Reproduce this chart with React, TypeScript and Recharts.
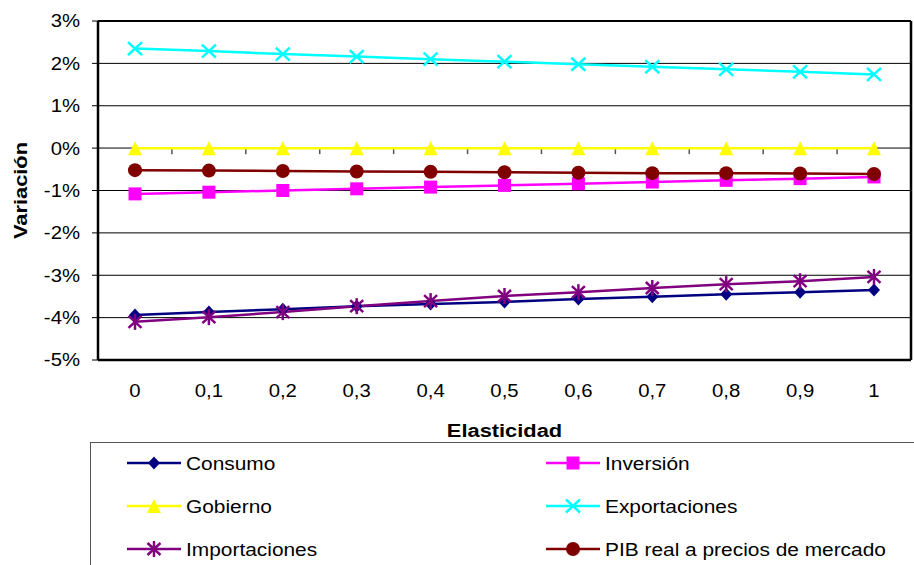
import React from 'react';
import { LineChart, Line, XAxis, YAxis, CartesianGrid, ReferenceLine, Legend, Label } from 'recharts';

const categories = ['0', '0,1', '0,2', '0,3', '0,4', '0,5', '0,6', '0,7', '0,8', '0,9', '1'];
const consumo = [-3.94, -3.87, -3.8, -3.73, -3.68, -3.63, -3.56, -3.51, -3.45, -3.4, -3.35];
const inversion = [-1.08, -1.04, -1.0, -0.96, -0.92, -0.88, -0.84, -0.8, -0.76, -0.72, -0.68];
const gobierno = [0, 0, 0, 0, 0, 0, 0, 0, 0, 0, 0];
const exportaciones = [2.35, 2.29, 2.22, 2.16, 2.1, 2.04, 1.98, 1.92, 1.86, 1.8, 1.74];
const importaciones = [-4.1, -3.99, -3.87, -3.73, -3.61, -3.49, -3.4, -3.3, -3.21, -3.14, -3.04];
const pib = [-0.52, -0.53, -0.54, -0.55, -0.56, -0.57, -0.58, -0.59, -0.59, -0.6, -0.61];
const yTicks = [-5, -4, -3, -2, -1, 0, 1, 2, 3];

const FONT = '"Liberation Sans", Arial, sans-serif';
const SX = 1.13;

type Kind = 'diamond' | 'square' | 'triangle' | 'x' | 'star' | 'circle';

const series: { key: string; name: string; values: number[]; color: string; kind: Kind }[] = [
  { key: 'consumo', name: 'Consumo', values: consumo, color: '#000080', kind: 'diamond' },
  { key: 'inversion', name: 'Inversión', values: inversion, color: '#FF00FF', kind: 'square' },
  { key: 'gobierno', name: 'Gobierno', values: gobierno, color: '#FFFF00', kind: 'triangle' },
  { key: 'exportaciones', name: 'Exportaciones', values: exportaciones, color: '#00FFFF', kind: 'x' },
  { key: 'importaciones', name: 'Importaciones', values: importaciones, color: '#800080', kind: 'star' },
  { key: 'pib', name: 'PIB real a precios de mercado', values: pib, color: '#800000', kind: 'circle' },
];

const data = categories.map((c, i) => {
  const row: Record<string, any> = { cat: c };
  series.forEach((s) => {
    row[s.key] = s.values[i];
  });
  return row;
});

function Marker({ cx, cy, kind, color }: { cx: number; cy: number; kind: Kind; color: string }) {
  switch (kind) {
    case 'diamond':
      return <polygon points={`${cx},${cy - 6.5} ${cx + 6},${cy} ${cx},${cy + 6.5} ${cx - 6},${cy}`} fill={color} />;
    case 'square':
      return <rect x={cx - 6.5} y={cy - 6.5} width={13} height={13} fill={color} />;
    case 'triangle':
      return <polygon points={`${cx},${cy - 7} ${cx + 7},${cy + 7} ${cx - 7},${cy + 7}`} fill={color} />;
    case 'x':
      return (
        <g stroke={color} strokeWidth={2.5}>
          <line x1={cx - 7} y1={cy - 6.5} x2={cx + 7} y2={cy + 6.5} />
          <line x1={cx - 7} y1={cy + 6.5} x2={cx + 7} y2={cy - 6.5} />
        </g>
      );
    case 'star':
      return (
        <g stroke={color} strokeWidth={2.5}>
          <line x1={cx - 6.5} y1={cy - 6} x2={cx + 6.5} y2={cy + 6} />
          <line x1={cx - 6.5} y1={cy + 6} x2={cx + 6.5} y2={cy - 6} />
          <line x1={cx} y1={cy - 8} x2={cx} y2={cy + 8} />
        </g>
      );
    case 'circle':
    default:
      return <circle cx={cx} cy={cy} r={7} fill={color} />;
  }
}

const makeDot = (kind: Kind, color: string) => (p: any) => {
  if (p.cx == null || p.cy == null) return <g key={`e-${p.index}`} />;
  return (
    <g key={`d-${kind}-${p.index}`}>
      <Marker cx={p.cx} cy={p.cy} kind={kind} color={color} />
    </g>
  );
};

const YTick = (p: any) => (
  <text
    transform={`translate(${p.x},${p.y}) scale(${SX},1)`}
    textAnchor="end"
    dy="0.36em"
    fontSize={18}
    fontFamily={FONT}
    fill="#000"
  >
    {`${p.payload.value}%`}
  </text>
);

const XTick = (p: any) => (
  <text
    transform={`translate(${p.x},${p.y}) scale(${SX},1)`}
    textAnchor="middle"
    dy="0.71em"
    fontSize={18}
    fontFamily={FONT}
    fill="#000"
  >
    {p.payload.value}
  </text>
);

const XTitle = (p: any) => {
  const vb = p.viewBox || { x: 98, y: 360, width: 813 };
  return (
    <text
      transform={`translate(${vb.x + vb.width / 2},${vb.y + 77}) scale(1.15,1)`}
      textAnchor="middle"
      fontSize={19}
      fontWeight="bold"
      fontFamily={FONT}
      fill="#000"
    >
      Elasticidad
    </text>
  );
};

const YTitle = (p: any) => {
  const vb = p.viewBox || { x: 0, y: 21, width: 98, height: 339 };
  return (
    <text
      transform={`translate(20,${vb.y + vb.height / 2}) rotate(-90) scale(1.15,1)`}
      textAnchor="middle"
      dy="0.36em"
      fontSize={19}
      fontWeight="bold"
      fontFamily={FONT}
      fill="#000"
    >
      Variación
    </text>
  );
};

const ZeroAxis = (p: any) => {
  const x1 = p.x1 ?? 98;
  const x2 = p.x2 ?? 911;
  const y = p.y1 ?? 148;
  const n = categories.length;
  const step = (x2 - x1) / n;
  const marks = [];
  for (let i = 1; i < n; i++) {
    const x = x1 + step * i;
    marks.push(<line key={i} x1={x} y1={y} x2={x} y2={y + 6} stroke="#555" strokeWidth={1.5} />);
  }
  return (
    <g>
      <line x1={x1} y1={y} x2={x2} y2={y} stroke="#777" strokeWidth={1.5} />
      {marks}
    </g>
  );
};

const renderLegend = () => {
  const rows = [21, 64, 107];
  const cols = [
    { lx1: 37, lx2: 91, tx: 96 },
    { lx1: 456, lx2: 510, tx: 515 },
  ];
  return (
    <svg width={824} height={123} style={{ display: 'block' }}>
      <rect x={0.5} y={0.5} width={840} height={160} fill="#fff" stroke="#555" strokeWidth={1} />
      {series.map((s, i) => {
        const col = cols[i % 2];
        const y = rows[Math.floor(i / 2)];
        const mx = (col.lx1 + col.lx2) / 2;
        return (
          <g key={s.key}>
            <line x1={col.lx1} y1={y} x2={col.lx2} y2={y} stroke={s.color} strokeWidth={2.5} />
            <Marker cx={mx} cy={y} kind={s.kind} color={s.color} />
            <text
              transform={`translate(${col.tx},${y}) scale(${SX},1)`}
              dy="0.36em"
              fontSize={18.5}
              fontFamily={FONT}
              fill="#000"
            >
              {s.name}
            </text>
          </g>
        );
      })}
    </svg>
  );
};

export default function App() {
  return (
    <div
      style={{
        position: 'absolute',
        left: 0,
        top: 0,
        width: 914,
        height: 565,
        overflow: 'hidden',
        background: '#fff',
        fontFamily: FONT,
      }}
    >
      <LineChart width={914} height={565} data={data} margin={{ top: 21, right: 0, bottom: 145, left: 0 }}>
        <CartesianGrid vertical={false} stroke="#000" strokeWidth={1} />
        <XAxis
          dataKey="cat"
          padding={{ left: 37, right: 37 }}
          interval={0}
          tickLine={false}
          tickSize={0}
          tickMargin={24}
          height={60}
          axisLine={{ stroke: '#000', strokeWidth: 2.5 }}
          tick={<XTick />}
        >
          <Label content={XTitle} />
        </XAxis>
        <YAxis
          domain={[-5, 3]}
          ticks={yTicks}
          interval={0}
          width={98}
          tickSize={6}
          tickMargin={12}
          tickLine={{ stroke: '#000' }}
          axisLine={{ stroke: '#000', strokeWidth: 2.5 }}
          tick={<YTick />}
        >
          <Label content={YTitle} />
        </YAxis>
        <YAxis
          yAxisId="r"
          orientation="right"
          domain={[-5, 3]}
          ticks={yTicks}
          width={3}
          tick={false}
          tickLine={false}
          axisLine={{ stroke: '#000', strokeWidth: 2.5 }}
        />
        <ReferenceLine y={3} stroke="#000" strokeWidth={2} />
        <ReferenceLine y={0} shape={ZeroAxis} />
        {series.map((s) => (
          <Line
            key={s.key}
            dataKey={s.key}
            name={s.name}
            stroke={s.color}
            strokeWidth={2.5}
            dot={makeDot(s.kind, s.color)}
            activeDot={false}
            isAnimationActive={false}
          />
        ))}
        <Legend
          layout="horizontal"
          verticalAlign="middle"
          align="center"
          wrapperStyle={{ position: 'absolute', left: 90, top: 442, width: 824, height: 123 }}
          content={renderLegend}
        />
      </LineChart>
    </div>
  );
}
